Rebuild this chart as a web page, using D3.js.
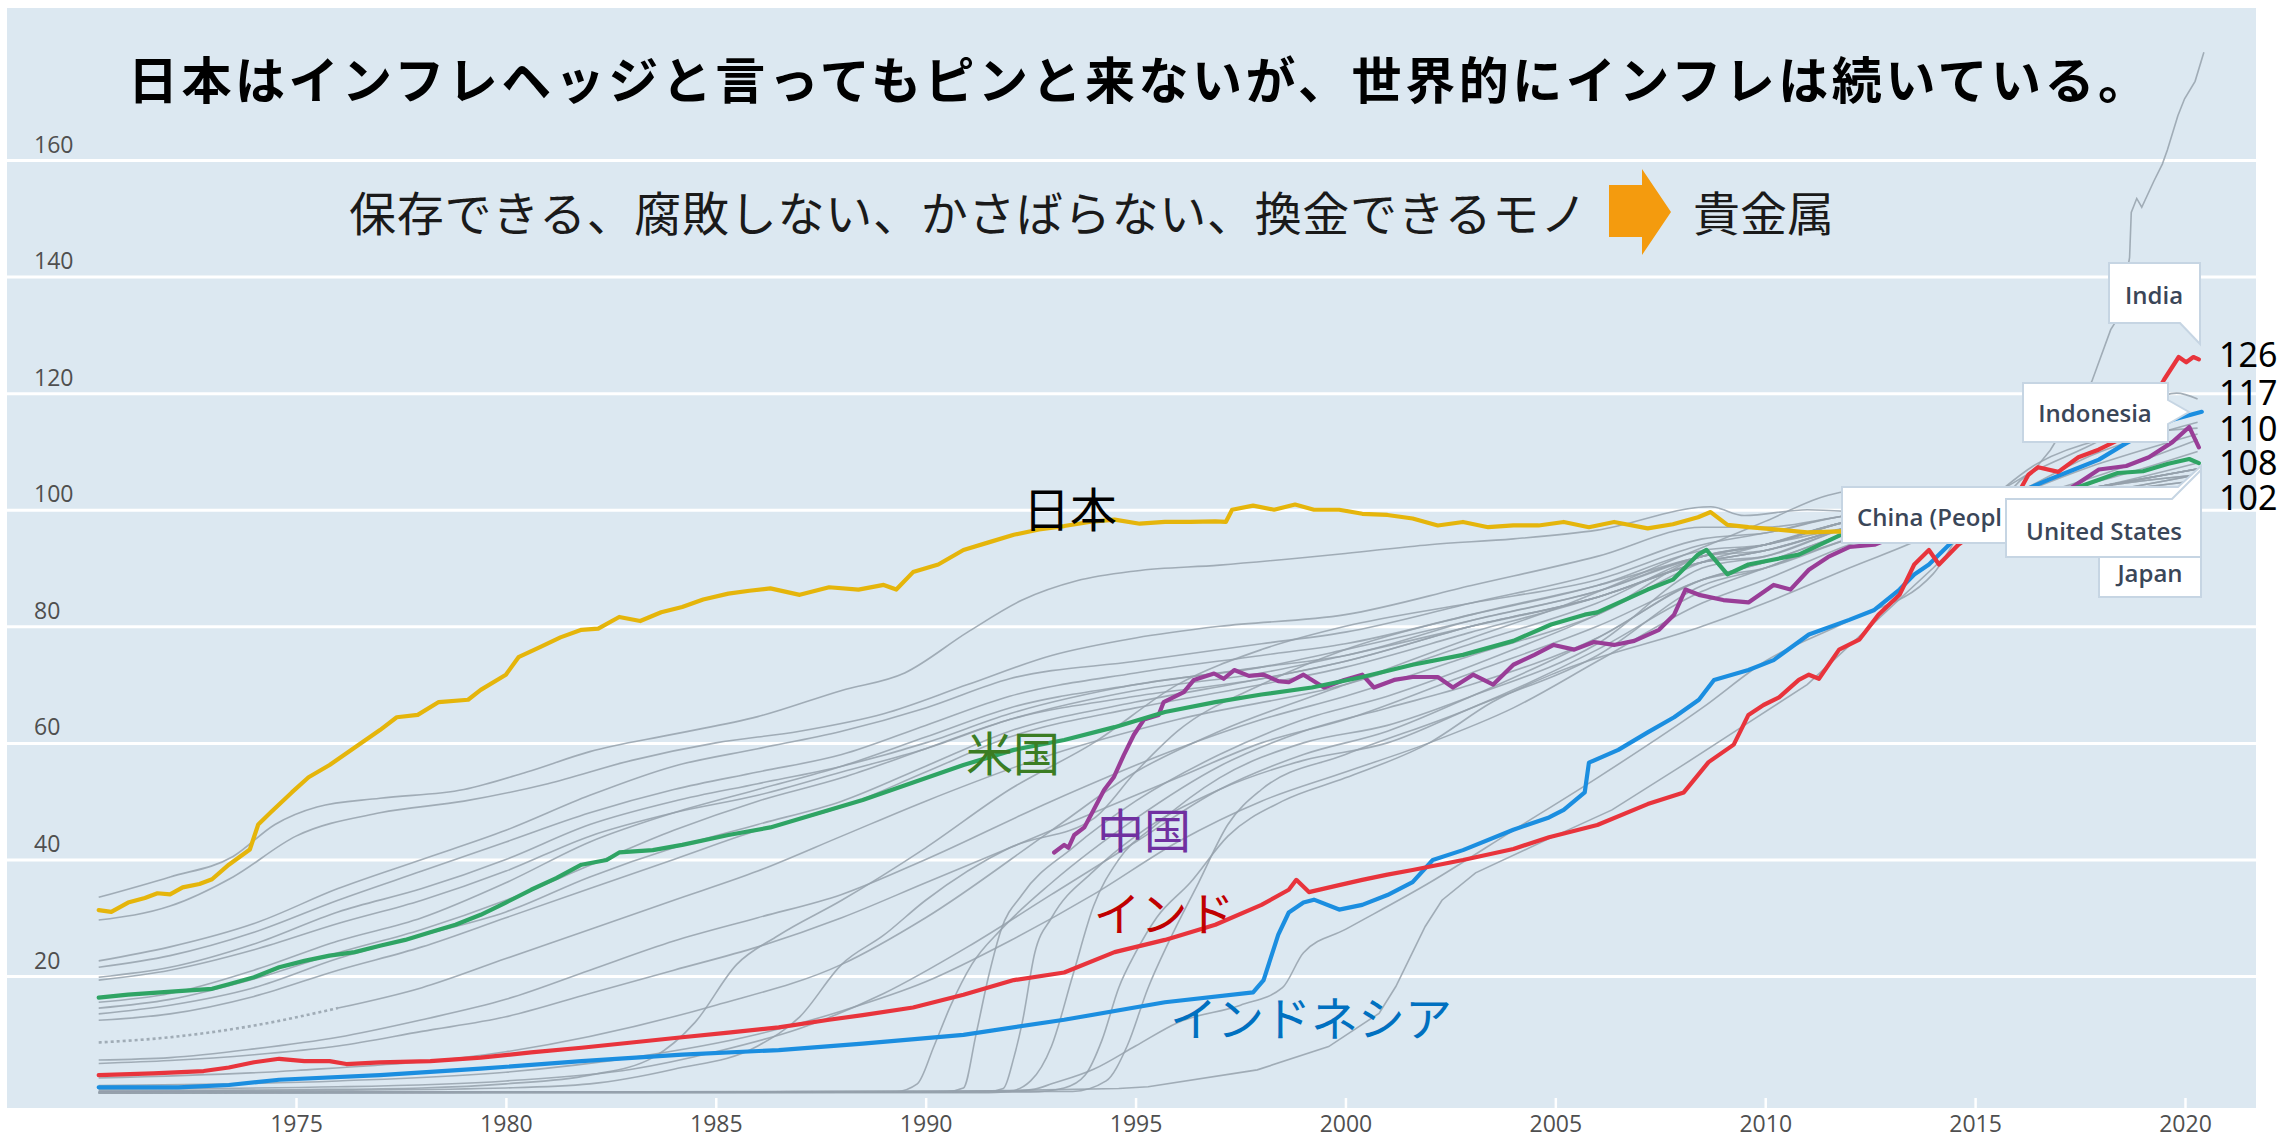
<!DOCTYPE html>
<html>
<head>
<meta charset="utf-8">
<script src="https://cdn.jsdelivr.net/npm/d3@7"></script>
<style>
  body { margin: 0; background: #fff; }
  svg { display: block; }
</style>
</head>
<body>
<svg id="chart" width="2283" height="1141"></svg>
<script>
// CPI index (2015 = 100), [year, value]
const japan = [[1970.3,31.3],[1970.6,31.0],[1971.0,32.6],[1971.4,33.4],[1971.7,34.2],[1972.0,34.0],[1972.3,35.2],[1972.7,35.8],[1973.0,36.6],[1973.4,39.1],[1973.9,41.7],[1974.1,46.0],[1974.4,48.1],[1974.9,51.5],[1975.3,54.1],[1975.8,56.2],[1976.4,59.2],[1977.0,62.2],[1977.4,64.4],[1977.9,64.8],[1978.4,67.0],[1979.1,67.4],[1979.4,69.1],[1980.0,71.7],[1980.3,74.7],[1980.8,76.4],[1981.3,78.1],[1981.8,79.4],[1982.2,79.6],[1982.7,81.6],[1983.2,80.9],[1983.7,82.4],[1984.2,83.3],[1984.7,84.6],[1985.3,85.6],[1985.8,86.1],[1986.3,86.5],[1987.0,85.4],[1987.7,86.7],[1988.4,86.3],[1989.0,87.1],[1989.3,86.3],[1989.7,89.3],[1990.3,90.6],[1990.9,93.1],[1991.5,94.4],[1992.1,95.7],[1992.7,96.6],[1993.3,97.2],[1993.9,97.9],[1994.5,98.3],[1995.1,97.6],[1995.7,97.9],[1996.3,97.9],[1996.9,98.0],[1997.15,97.9],[1997.3,100.0],[1997.8,100.7],[1998.3,100.0],[1998.8,100.9],[1999.25,100.0],[1999.85,100.0],[2000.4,99.3],[2001.0,99.1],[2001.6,98.5],[2002.2,97.3],[2002.8,97.9],[2003.4,97.0],[2004.0,97.3],[2004.6,97.3],[2005.2,97.9],[2005.8,97.0],[2006.4,97.9],[2007.2,96.8],[2007.8,97.5],[2008.4,98.7],[2008.7,99.6],[2009.1,97.4],[2009.6,97.0],[2010.3,96.6],[2011.0,96.1],[2011.8,96.3],[2012.5,96.0],[2013.3,96.5],[2014.0,97.3],[2014.4,99.5],[2015.0,99.8],[2015.7,100.2],[2016.3,99.8],[2017.0,100.2],[2017.7,100.8],[2018.4,101.3],[2019.0,101.4],[2019.8,102.3],[2020.3,101.9]];

const unitedStates = [[1970.3,16.3],[1971.0,16.8],[1972.2,17.4],[1973.0,17.8],[1973.4,18.6],[1974.0,19.8],[1974.6,21.5],[1975.2,22.6],[1975.8,23.5],[1976.4,24.1],[1977.0,25.2],[1977.6,26.2],[1978.2,27.5],[1978.8,28.8],[1979.4,30.5],[1980.0,32.6],[1980.6,34.8],[1981.2,36.8],[1981.8,39.1],[1982.4,39.9],[1982.7,41.2],[1983.5,41.6],[1984.2,42.5],[1985.3,44.2],[1986.3,45.5],[1987.1,47.2],[1987.7,48.5],[1988.5,50.2],[1989.7,53.2],[1990.9,56.2],[1992.1,58.8],[1993.3,60.5],[1994.5,62.7],[1995.7,65.3],[1996.9,67.0],[1998.0,68.3],[1999.2,69.5],[2000.4,71.3],[2001.6,73.4],[2002.8,75.1],[2004.0,77.5],[2004.9,80.3],[2005.7,82.0],[2006.0,82.4],[2007.2,86.3],[2007.8,88.0],[2008.4,92.3],[2008.6,93.1],[2009.1,88.9],[2009.6,90.6],[2010.8,92.3],[2011.8,95.7],[2012.6,96.8],[2013.5,98.4],[2014.5,99.9],[2015.2,99.8],[2016.0,100.6],[2016.8,102.5],[2017.5,104.0],[2018.4,106.3],[2019.0,106.6],[2019.6,107.9],[2020.1,108.7],[2020.33,108.0]];

const china = [[1993.06,41.2],[1993.3,42.5],[1993.4,42.0],[1993.54,44.2],[1993.78,45.5],[1994.0,48.5],[1994.25,51.9],[1994.48,54.1],[1994.72,57.9],[1994.96,61.4],[1995.2,64.0],[1995.55,64.8],[1995.67,67.0],[1996.15,68.7],[1996.39,70.8],[1996.87,71.9],[1997.1,71.0],[1997.35,72.5],[1997.7,71.5],[1998.05,71.7],[1998.4,70.6],[1998.65,70.4],[1999.0,71.7],[1999.49,69.5],[1999.97,70.8],[2000.4,71.7],[2000.68,69.5],[2001.16,70.8],[2001.6,71.3],[2002.2,71.3],[2002.56,69.5],[2003.04,71.7],[2003.52,70.0],[2004.0,73.4],[2004.5,75.1],[2004.96,76.8],[2005.45,76.0],[2005.92,77.3],[2006.4,76.8],[2006.88,77.5],[2007.47,79.4],[2007.83,82.0],[2008.1,86.3],[2008.42,85.4],[2009.0,84.5],[2009.6,84.1],[2010.2,87.1],[2010.6,86.3],[2011.04,89.7],[2011.5,91.9],[2012.0,93.6],[2012.6,94.0],[2013.3,96.0],[2014.0,98.2],[2014.6,98.8],[2015.3,100.0],[2016.0,101.8],[2016.6,102.5],[2017.3,103.8],[2017.95,106.9],[2018.6,107.5],[2019.14,109.0],[2019.7,111.6],[2020.1,114.2],[2020.33,110.7]];

const india = [[1970.3,3.0],[1971.6,3.3],[1972.8,3.7],[1973.4,4.3],[1974.0,5.2],[1974.6,5.8],[1975.2,5.4],[1975.8,5.4],[1976.2,4.9],[1977.0,5.2],[1978.2,5.4],[1979.4,6.0],[1980.6,6.9],[1981.8,7.7],[1983.0,8.6],[1984.2,9.5],[1985.3,10.3],[1986.5,11.2],[1987.7,12.5],[1988.5,13.3],[1989.7,14.6],[1990.9,16.8],[1992.1,19.3],[1993.3,20.6],[1994.5,24.1],[1995.7,26.2],[1996.9,28.8],[1998.0,32.2],[1998.65,34.8],[1998.83,36.5],[1999.13,34.4],[1999.85,35.6],[2000.4,36.5],[2001.0,37.4],[2001.6,38.2],[2002.8,39.9],[2004.0,41.8],[2004.85,43.8],[2006.0,45.9],[2007.2,49.5],[2008.06,51.5],[2008.65,56.7],[2009.25,59.7],[2009.6,64.8],[2009.96,66.5],[2010.33,67.8],[2010.8,70.8],[2011.04,71.7],[2011.28,71.0],[2011.76,76.0],[2012.24,77.7],[2012.7,82.0],[2013.2,85.4],[2013.55,90.6],[2013.9,93.1],[2014.14,90.6],[2014.6,94.0],[2015.08,96.6],[2015.55,98.3],[2016.0,102.5],[2016.27,106.0],[2016.5,107.3],[2016.98,106.5],[2017.46,109.0],[2017.94,110.3],[2018.54,112.4],[2019.0,116.0],[2019.5,122.3],[2019.85,126.2],[2020.03,125.3],[2020.2,126.2],[2020.33,125.8]];

const indonesia = [[1970.3,0.9],[1972.2,0.9],[1973.4,1.3],[1974.6,2.2],[1977.0,3.0],[1979.4,4.1],[1981.8,5.4],[1984.2,6.5],[1986.5,7.3],[1988.5,8.4],[1990.9,9.9],[1993.3,12.5],[1995.7,15.5],[1997.8,17.2],[1998.05,19.3],[1998.4,27.1],[1998.65,30.9],[1999.0,32.6],[1999.25,33.1],[1999.85,31.4],[2000.4,32.2],[2001.0,33.9],[2001.6,36.1],[2002.08,39.9],[2002.8,41.6],[2004.0,45.1],[2004.85,47.2],[2005.2,48.5],[2005.7,51.5],[2005.8,56.6],[2006.5,58.8],[2007.2,61.8],[2007.83,64.4],[2008.42,67.4],[2008.78,70.8],[2009.6,72.5],[2010.2,74.2],[2011.04,78.6],[2012.0,81.1],[2012.6,82.8],[2013.2,86.3],[2013.55,88.9],[2013.9,90.6],[2014.38,94.0],[2015.0,98.5],[2015.5,100.5],[2016.05,103.0],[2016.77,105.2],[2017.36,106.9],[2017.95,108.6],[2018.5,111.0],[2019.0,113.0],[2019.73,115.5],[2020.4,116.8]];

// other countries, grey
const advanced = [
  [[1970.3,33.5],[1972,37],[1973.5,40.5],[1974.5,46],[1975.5,49],[1977,50.5],[1979,52],[1980.5,55],[1982,58.5],[1984,61.5],[1986,64.5],[1988,69],[1989.5,72],[1991,79],[1992.3,84.5],[1993.6,87.8],[1995,89.5],[1997,90.5],[2000,92.5],[2002,94],[2004,95],[2006,96.5],[2008.7,100.5],[2009.5,99],[2011,100],[2012.5,99.5],[2015,99],[2017,99.5],[2019,100.5],[2020.3,100]],
  [[1970.3,29.6],[1972,32],[1973.5,37],[1975,44],[1977,48],[1979,50],[1981,53],[1983,57],[1985,60],[1987,62],[1989,65],[1991,70],[1993,75],[1995,78],[1997,80],[2000,82],[2003,87],[2006,92],[2008.5,97],[2010,97],[2012,99],[2015,100],[2018,102],[2020.3,103]],
  [[1970.3,22.6],[1972,25],[1974,29],[1976,35],[1978,40],[1980,45],[1982,51],[1984,56],[1986,59],[1988,62],[1990,66],[1992,71],[1995,74],[1998,77],[2000,79],[2003,84],[2006,89],[2008.5,95],[2010,96],[2012,99],[2015,100],[2018,102],[2020.3,104]],
  [[1970.3,21.5],[1972,23.5],[1974,27.5],[1976,33],[1978,38],[1980,43],[1982,48],[1984,52],[1986,55],[1988,58],[1990,63],[1992,68],[1995,72],[1998,75],[2000,77],[2003,82],[2006,87],[2008.5,93],[2010,94],[2012,98],[2015,100],[2018,103],[2020.3,106]],
  [[1970.3,19.8],[1972,21.5],[1974,25.5],[1976,31],[1978,35],[1980,40],[1982,46],[1984,50],[1986,53],[1988,56],[1990,60],[1992,65],[1995,70],[1998,73],[2000,76],[2003,81],[2006,86],[2008.5,92],[2010,93],[2012,97],[2015,100],[2018,104],[2020.3,107]],
  [[1970.3,19.3],[1972,21],[1974,24.5],[1976,29],[1978,33],[1980,38],[1982,44],[1984,48],[1986,51],[1988,55],[1990,59],[1992,64],[1995,69],[1998,72],[2000,75],[2003,80],[2006,85],[2008.5,91],[2010,92],[2012,97],[2015,100],[2018,104],[2020.3,106]],
  [[1970.3,15.5],[1972,17],[1974,21],[1976,26],[1978,30],[1980,36],[1982,43],[1984,48],[1986,52],[1988,56],[1990,61],[1992,66],[1995,70],[1998,73],[2000,75],[2003,81],[2006,86],[2008.5,92],[2010,94],[2012,98],[2015,100],[2018,103],[2020.3,105]],
  [[1970.3,14.5],[1972,16],[1974,19.5],[1976,24],[1978,28],[1980,33],[1982,39],[1984,45],[1986,50],[1988,54],[1990,59],[1992,64],[1995,68],[1998,71],[2000,74],[2003,80],[2006,85],[2008.5,91],[2010,93],[2012,97],[2015,100],[2018,104],[2020.3,107]],
  [[1970.3,13.5],[1972,15],[1974,18],[1976,23],[1978,27],[1980,31],[1982,37],[1984,42],[1986,46],[1988,50],[1990,56],[1992,62],[1995,67],[1998,71],[2000,74],[2003,80],[2006,85],[2008.5,91],[2010,93],[2012,97],[2015,100],[2018,103],[2020.3,106]],
  [[1970.3,12.4],[1972,13.5],[1974,16.5],[1976,21],[1978,25],[1980,30],[1982,35],[1984,40],[1986,45],[1988,49],[1990,55],[1992,61],[1995,66],[1998,70],[2000,73],[2003,79],[2006,85],[2008.5,91],[2010,93],[2012,97],[2015,100],[2018,104],[2020.3,108]]
];

const moderate = [
  [[1976,14.5],[1978,18],[1980,23],[1982,28],[1984,33],[1986,38],[1988,44],[1990,50],[1993,58],[1996,64],[2000,70],[2003,77],[2006,84],[2008.5,92],[2010,94],[2012,98],[2015,100],[2018,103],[2020.3,104]],
  [[1970.3,5.6],[1972,6],[1974,7.5],[1976,9.5],[1978,12.5],[1980,16],[1982,21],[1984,26],[1986,30],[1988,34],[1990,40],[1993,50],[1996,59],[1998,64],[2000,68],[2003,75],[2006,82],[2008.5,91],[2010,94],[2012,98],[2015,100],[2018,106],[2020.3,112]],
  [[1970.3,5.0],[1972,5.5],[1974,6.5],[1976,8],[1978,10.5],[1980,13],[1982,17],[1984,21],[1986,25],[1988,30],[1990,36],[1993,45],[1996,54],[1998,60],[2000,64],[2003,72],[2006,80],[2008.5,88],[2010,91],[2012,96],[2015,100],[2018,105],[2020.3,110]],
  [[1970.3,2.5],[1975,3.8],[1980,7],[1985,15],[1988,22],[1990,30],[1993,45],[1995,55],[1997,62],[2000,70],[2003,78],[2005,83],[2008,92],[2010,98],[2011.5,102.5],[2012.5,103.5],[2013.5,102],[2015,100],[2017,100],[2020.3,101]],
  [[1970.3,0.3],[1975,0.5],[1978,0.8],[1980,1.5],[1982,3],[1983.5,6],[1984.5,12],[1985.5,22],[1986.5,27],[1988,33],[1990,42],[1992,52],[1994,60],[1996,70],[1998,76],[2000,80],[2003,84],[2006,88],[2008.5,94],[2010,96],[2012,99],[2015,100],[2018,99.5],[2020.3,100]],
  [[1970.3,0.2],[1976,0.4],[1980,0.8],[1982,1.5],[1984,4],[1986,8],[1987,13],[1988,22],[1989,27],[1990,33],[1992,42],[1994,47],[1995,55],[1996,62],[1998,70],[2000,76],[2003,82],[2006,87],[2008.5,92],[2010,94],[2012,97],[2015,100],[2018,110],[2020.3,115]],
  [[1970.3,0.6],[1976,1],[1980,2],[1983,4],[1985,7],[1987,11],[1989,17],[1991,25],[1993,34],[1995,43],[1997,52],[1999,58],[2001,62],[2003,68],[2006,78],[2008.5,88],[2010,91],[2012,96],[2015,100],[2018,104],[2020.3,107]],
  [[1970.3,1.2],[1976,2],[1980,3.5],[1983,6],[1986,10],[1988,14],[1990,19],[1992,26],[1994,34],[1996,43],[1998,50],[2000,55],[2002,60],[2004,66],[2006,74],[2008.5,84],[2010,88],[2012,94],[2015,100],[2018,108],[2020.3,113]]
];
// early part of one series is drawn dotted in the source
const dottedStart = [[1970.3,8.6],[1972,9.5],[1974,11.5],[1976,14.5]];

const lateRisers = [
  [[1970.3,0],[1985,0.1],[1989.3,0.2],[1989.8,1.5],[1990.2,8],[1990.6,15],[1991.1,22],[1991.8,28],[1993,36],[1995,47],[1997,56],[1999,62],[2001,66],[2003,70],[2006,78],[2008.5,88],[2010,90],[2012,95],[2015,100],[2018,104],[2020.3,106]],
  [[1970.3,0],[1990.5,0.2],[1990.9,0.8],[1991.2,10],[1991.5,20],[1991.8,28],[1992.3,34],[1993.5,42],[1995,50],[1997,58],[1999,64],[2001,68],[2004,76],[2006,82],[2008.5,92],[2010,94],[2012,98],[2015,100],[2018,102],[2020.3,104]],
  [[1970.3,0],[1991.5,0.2],[1991.85,0.7],[1992.1,6],[1992.3,12],[1992.6,24],[1993,30],[1994,38],[1995,44],[1997,52],[1999,57],[2001,60],[2003,66],[2006,75],[2008.5,87],[2010,90],[2012,96],[2015,100],[2018,103],[2020.3,105]],
  [[1970.3,0],[1992,0.3],[1992.5,2],[1993,8],[1993.5,20],[1994,32],[1994.6,40],[1995.5,46],[1997,54],[1999,60],[2001,63],[2003,68],[2006,77],[2008.5,90],[2010,92],[2012,97],[2015,100],[2018,102],[2020.3,103]],
  [[1970.3,0],[1992.5,0.1],[1993.3,0.8],[1993.8,3],[1994.2,9],[1994.6,18],[1995,24],[1995.5,30],[1996.3,36],[1997.2,44],[1998.5,50],[2000,54],[2002,60],[2003.5,67],[2005,72],[2008.5,80],[2010,84],[2012,90],[2014,96],[2015,100],[2016.5,108],[2018,112],[2020.3,114]],
  [[1970.3,0],[1991.5,0],[1992,0.2],[1992.6,0.6],[1993,1.5],[1994,4],[1995,8],[1996,12],[1997.5,15],[1998.5,18],[1999,24],[2000,28],[2002,36],[2004,45],[2006,54],[2008.5,66],[2010,74],[2012,81],[2014,89],[2015,100],[2016,105],[2018,112],[2019.8,120],[2020.3,119]],
  [[1970.3,0],[1993.5,0.2],[1994.3,2],[1994.8,8],[1995.3,18],[1995.8,26],[1996.5,36],[1997.2,46],[1998,52],[2000,58],[2003,66],[2006,76],[2008.5,86],[2010,90],[2012,95],[2015,100],[2018,104],[2020.3,107]]
];

const turkey = [[1970.3,0],[1985,0.02],[1990,0.1],[1994.6,0.7],[1995.3,1.0],[1997.9,3.9],[1999.6,7.9],[2000.8,13.6],[2001.2,18.2],[2001.9,28.5],[2002.3,33],[2003.1,37.7],[2004.8,43.4],[2006.35,48.5],[2008,56],[2009.5,63],[2011,70],[2012.5,80],[2014,90],[2015,97],[2016.06,104.9],[2016.46,107.3],[2016.79,110.2],[2017.2,115],[2017.78,122],[2018.23,130.9],[2018.44,133.3],[2018.68,143.3],[2018.72,151],[2018.85,153.4],[2018.97,151.9],[2019.26,156.4],[2019.46,159.3],[2019.58,161.7],[2019.83,167.6],[2019.99,170.5],[2020.24,173.5],[2020.45,178.5]];

const xTicks = [1975, 1980, 1985, 1990, 1995, 2000, 2005, 2010, 2015, 2020];
const yTicks = [20, 40, 60, 80, 100, 120, 140, 160];
const endLabels = ["126", "117", "110", "108", "102"];

const titleText = "日本はインフレヘッジと言ってもピンと来ないが、世界的にインフレは続いている。";
const subtitleText = "保存できる、腐敗しない、かさばらない、換金できるモノ";
const subtitleEnd = "貴金属";

const svg = d3.select("#chart");
const jp = "'Noto Sans CJK JP', sans-serif";
const panel = { left: 7, top: 8, right: 2256, bottom: 1108 };

const x = d3.scaleLinear().domain([1975, 2020]).range([296, 2185]);
const y = d3.scaleLinear().domain([0, 160]).range([1092.6, 160]);

svg.append("rect")
  .attr("width", 2283).attr("height", 1141).attr("fill", "#fff");
svg.append("rect")
  .attr("x", panel.left).attr("y", panel.top)
  .attr("width", panel.right - panel.left).attr("height", panel.bottom - panel.top)
  .attr("fill", "#dce8f1");

// gridlines + y labels
const yAxis = svg.append("g")
  .attr("transform", `translate(${panel.left},0)`)
  .call(d3.axisRight(y).tickValues(yTicks).tickSize(panel.right - panel.left));
yAxis.select(".domain").remove();
yAxis.selectAll(".tick line").attr("stroke", "#fff").attr("stroke-width", 3);
yAxis.selectAll(".tick text")
  .attr("x", 27).attr("y", -8).attr("dy", null)
  .attr("text-anchor", "start")
  .style("font-family", "'Open Sans', sans-serif")
  .style("font-size", "23px")
  .attr("fill", "#4f4f4f");

// x axis
const xAxis = svg.append("g")
  .attr("transform", "translate(0,1098)")
  .call(d3.axisBottom(x).tickValues(xTicks).tickFormat(d3.format("d")).tickSize(10).tickPadding(8));
xAxis.select(".domain").remove();
xAxis.selectAll(".tick line").attr("stroke", "#fff").attr("stroke-width", 2.5);
xAxis.selectAll(".tick text")
  .style("font-family", "'Open Sans', sans-serif")
  .style("font-size", "23px")
  .attr("fill", "#4f4f4f");

const smooth = d3.line().x(d => x(d[0])).y(d => y(d[1])).curve(d3.curveMonotoneX);
const straight = d3.line().x(d => x(d[0])).y(d => y(d[1]));

const greys = svg.append("g")
  .attr("fill", "none")
  .attr("stroke", "#95a1ab")
  .attr("stroke-width", 1.6)
  .attr("stroke-opacity", 0.85);

greys.selectAll("path.grey")
  .data(advanced.concat(moderate, lateRisers))
  .enter()
  .append("path")
  .attr("class", "grey")
  .attr("d", smooth);

greys.append("path")
  .attr("d", smooth(dottedStart))
  .attr("stroke-dasharray", "3,3")
  .attr("stroke-width", 2.6);

greys.append("path")
  .attr("d", straight(turkey));

const highlighted = [
  { values: indonesia, color: "#1b8ee0" },
  { values: india, color: "#e8343c" },
  { values: china, color: "#993d97" },
  { values: unitedStates, color: "#2fa464" },
  { values: japan, color: "#e5b50b" }
];

svg.append("g")
  .selectAll("path")
  .data(highlighted)
  .enter()
  .append("path")
  .attr("d", d => straight(d.values))
  .attr("fill", "none")
  .attr("stroke", d => d.color)
  .attr("stroke-width", 4.2)
  .attr("stroke-linejoin", "round")
  .attr("stroke-linecap", "round");

// tooltip style callouts
const callouts = svg.append("g");
function callout(outline, label, tx, ty, anchor) {
  callouts.append("path")
    .attr("d", outline)
    .attr("fill", "#fff")
    .attr("stroke", "#c6d5e3")
    .attr("stroke-width", 2);
  callouts.append("text")
    .attr("x", tx).attr("y", ty)
    .attr("text-anchor", anchor || "middle")
    .attr("dominant-baseline", "central")
    .style("font-family", "'Open Sans', sans-serif")
    .style("font-size", "24px")
    .style("font-weight", 600)
    .attr("fill", "#3a4658")
    .text(label);
}
// the China label is cut by the box in front of it
callout("M1842,487 H2178 L2201,466 V543 H1842 Z", "China (Peopl", 1857, 516, "start");
callout("M2099,540 H2201 V597 H2099 Z", "Japan", 2150, 572);
callout("M2006,499 H2172 L2201,470 V557 H2006 Z", "United States", 2104, 530);
callout("M2023,383 H2168 V400 L2189,412 L2168,424 V442 H2023 Z", "Indonesia", 2095, 412);
callout("M2109,263 H2200 V344 L2180,323 H2109 Z", "India", 2154, 294);

// end values
svg.append("g")
  .selectAll("text")
  .data(endLabels)
  .enter()
  .append("text")
  .attr("x", 2219)
  .attr("y", (d, i) => [354, 392, 428, 462, 497][i])
  .attr("dominant-baseline", "central")
  .style("font-family", "'Noto Sans', sans-serif")
  .style("font-size", "34px")
  .attr("fill", "#000")
  .text(d => d);

// series names in Japanese
const seriesNames = [
  { text: "日本", x: 1070, y: 506, color: "#000" },
  { text: "米国", x: 1013, y: 750, color: "#3b7d23" },
  { text: "中国", x: 1144, y: 827, color: "#7030a0" },
  { text: "インド", x: 1164, y: 910, color: "#c00000" },
  { text: "インドネシア", x: 1311, y: 1015, color: "#0070c0" }
];
svg.append("g")
  .selectAll("text")
  .data(seriesNames)
  .enter()
  .append("text")
  .attr("x", d => d.x)
  .attr("y", d => d.y)
  .attr("text-anchor", "middle")
  .attr("dominant-baseline", "central")
  .style("font-family", jp)
  .style("font-size", "47px")
  .attr("fill", d => d.color)
  .text(d => d.text);

// title and subtitle
svg.append("text")
  .attr("x", 128).attr("y", 77)
  .attr("dominant-baseline", "central")
  .attr("textLength", 2020)
  .attr("lengthAdjust", "spacing")
  .style("font-family", jp)
  .style("font-size", "50px")
  .style("font-weight", 700)
  .attr("fill", "#000")
  .text(titleText);

svg.append("text")
  .attr("x", 349).attr("y", 210)
  .attr("dominant-baseline", "central")
  .attr("textLength", 1238)
  .attr("lengthAdjust", "spacing")
  .style("font-family", jp)
  .style("font-size", "47px")
  .attr("fill", "#1a1a1a")
  .text(subtitleText);

svg.append("path")
  .attr("d", "M1609,185 H1642 V169 L1671,212 L1642,255 V237 H1609 Z")
  .attr("fill", "#f49b0e");

svg.append("text")
  .attr("x", 1693).attr("y", 210)
  .attr("dominant-baseline", "central")
  .attr("textLength", 141)
  .attr("lengthAdjust", "spacing")
  .style("font-family", jp)
  .style("font-size", "47px")
  .attr("fill", "#1a1a1a")
  .text(subtitleEnd);
</script>
</body>
</html>
